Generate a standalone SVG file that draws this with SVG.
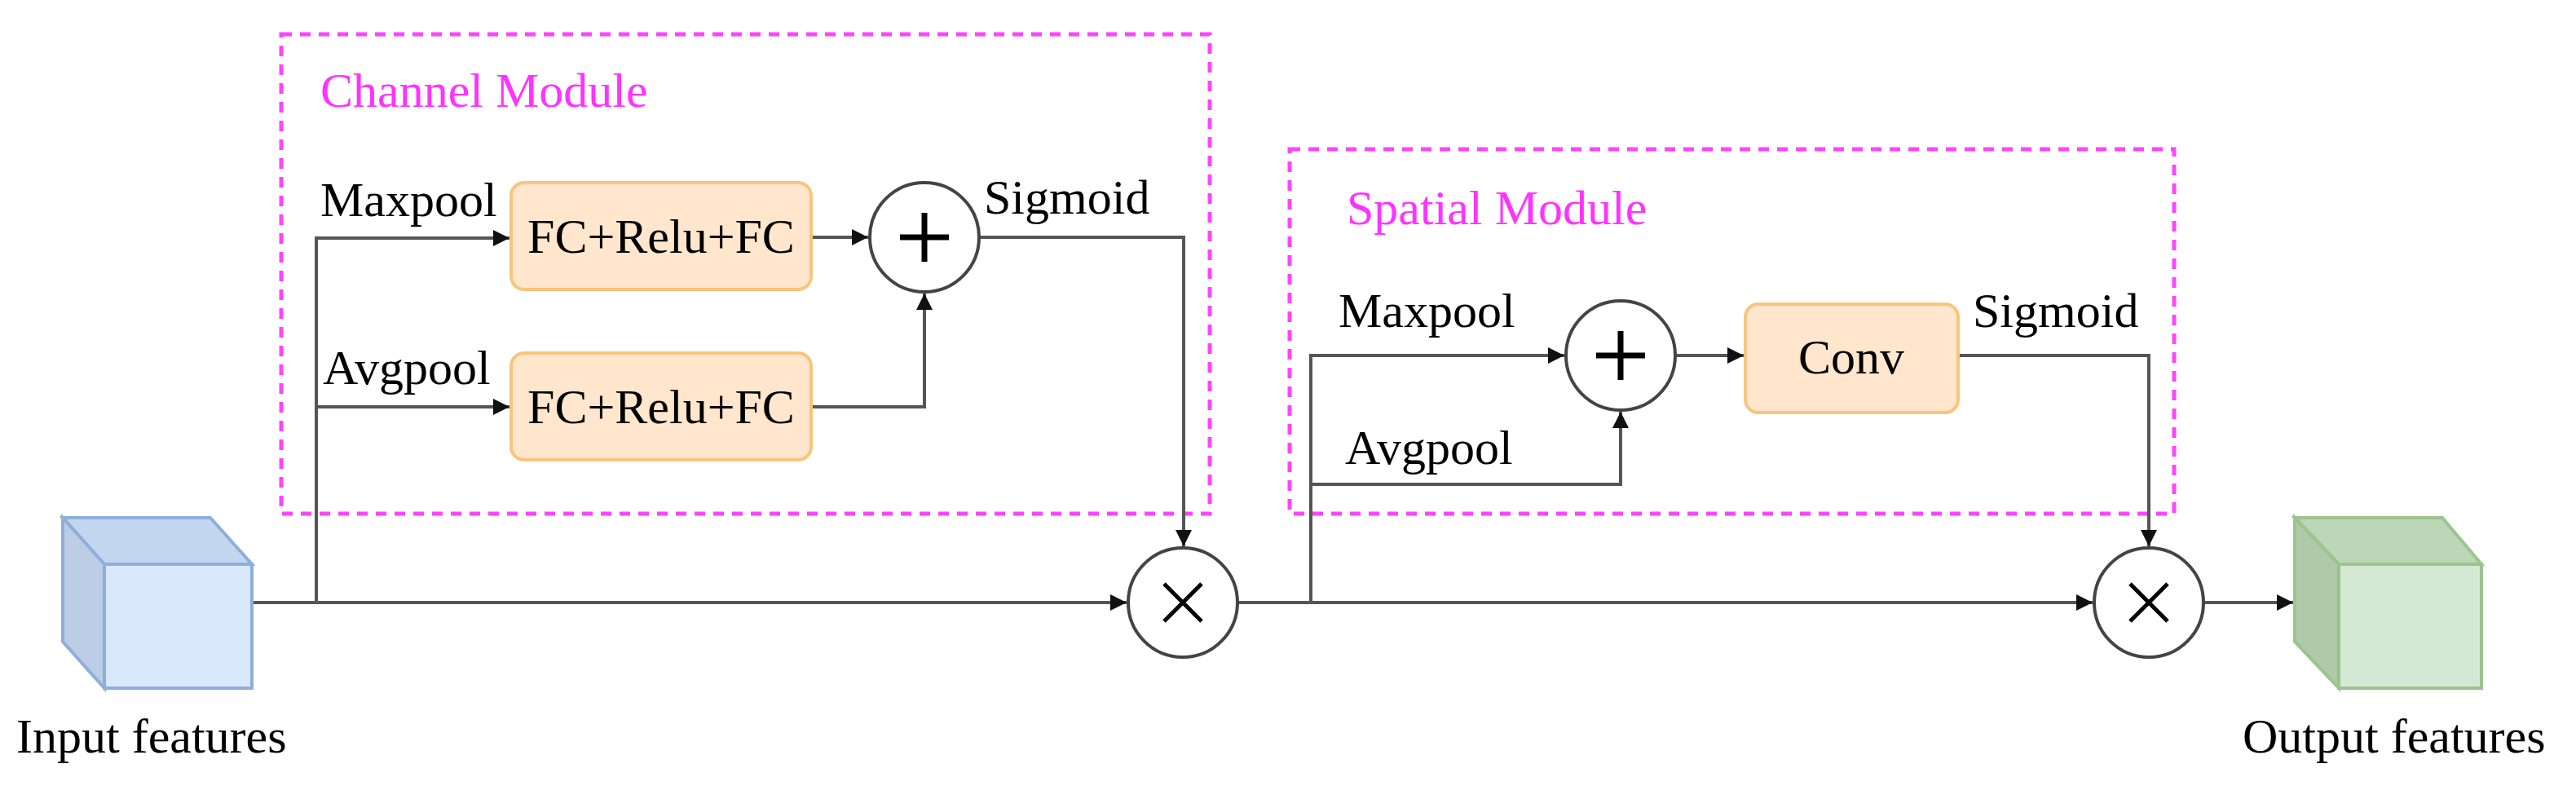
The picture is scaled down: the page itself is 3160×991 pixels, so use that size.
<svg xmlns="http://www.w3.org/2000/svg" width="3160" height="991" viewBox="0 0 3160 991">
<style>
text{font-family:"Liberation Serif","Times New Roman",serif;fill:#000}
.lbl{font-size:60px}
.mod{font-size:60px;fill:#ff33ff}
.box{fill:#ffe6cc;stroke:#f8c47e;stroke-width:4}
.dash{fill:none;stroke:#ff44ff;stroke-width:5;stroke-dasharray:13 10}
.op{fill:#fff;stroke:#444;stroke-width:4}
.sym{stroke:#000;stroke-width:7;stroke-linecap:butt}
.c{fill:none;stroke:#555;stroke-width:4}
</style>
<defs>
<marker id="a" viewBox="0 0 10 10" refX="10" refY="5" markerWidth="5" markerHeight="5" orient="auto" markerUnits="strokeWidth">
<path d="M0,0 L10,5 L0,10 Z" fill="#111"/>
</marker>
</defs>
<rect width="3160" height="991" fill="#fff"/>
<g id="channel-module">
<rect class="dash" x="345" y="42" width="1139" height="588"/>
<text class="mod" x="393" y="131">Channel Module</text>
</g>
<g id="spatial-module">
<rect class="dash" x="1582" y="183" width="1085" height="447"/>
<text class="mod" x="1652" y="275">Spatial Module</text>
</g>
<g id="connectors">
<path class="c" d="M309,739 H1382" marker-end="url(#a)"/>
<path class="c" d="M388,739 V292 H625" marker-end="url(#a)"/>
<path class="c" d="M388,499 H625" marker-end="url(#a)"/>
<path class="c" d="M995,291 H1065" marker-end="url(#a)"/>
<path class="c" d="M995,499 H1134 V360" marker-end="url(#a)"/>
<path class="c" d="M1201,291 H1452 V670" marker-end="url(#a)"/>
<path class="c" d="M1518,739 H2567" marker-end="url(#a)"/>
<path class="c" d="M1608,739 V436 H1919" marker-end="url(#a)"/>
<path class="c" d="M1608,594 H1988 V505" marker-end="url(#a)"/>
<path class="c" d="M2055,436 H2139" marker-end="url(#a)"/>
<path class="c" d="M2402,436 H2636 V670" marker-end="url(#a)"/>
<path class="c" d="M2703,739 H2813" marker-end="url(#a)"/>
</g>
<g id="input-features">
<polygon points="77,635 258,635 309,692 128,692" fill="#c3d6f0" stroke="#8eaedb" stroke-width="4"/>
<polygon points="77,635 128,692 128,844 77,787" fill="#bccde6" stroke="#8eaedb" stroke-width="4"/>
<rect x="128" y="692" width="181" height="152" fill="#dae8fc" stroke="#8eaedb" stroke-width="4"/>
<text class="lbl" x="20" y="923">Input features</text>
</g>
<g id="labels-channel">
<text class="lbl" x="393" y="265">Maxpool</text>
<text class="lbl" x="396" y="471">Avgpool</text>
<text class="lbl" x="1207" y="262">Sigmoid</text>
</g>
<g id="fc1">
<rect class="box" x="627" y="224" width="368" height="131" rx="16"/>
<text class="lbl" x="811" y="310" text-anchor="middle">FC+Relu+FC</text>
</g>
<g id="fc2">
<rect class="box" x="627" y="433" width="368" height="131" rx="16"/>
<text class="lbl" x="811" y="519" text-anchor="middle">FC+Relu+FC</text>
</g>
<g id="add1">
<circle class="op" cx="1134" cy="291" r="67"/>
<path class="sym" d="M1104,291 H1164 M1134,261 V321"/>
</g>
<g id="mul1">
<circle class="op" cx="1451" cy="739" r="67"/>
<path class="sym" d="M1428,716 L1474,762 M1474,716 L1428,762" style="stroke-width:5"/>
</g>
<g id="labels-spatial">
<text class="lbl" x="1642" y="401">Maxpool</text>
<text class="lbl" x="1650" y="569">Avgpool</text>
<text class="lbl" x="2420" y="401">Sigmoid</text>
</g>
<g id="add2">
<circle class="op" cx="1988" cy="436" r="67"/>
<path class="sym" d="M1958,436 H2018 M1988,406 V466"/>
</g>
<g id="conv">
<rect class="box" x="2141" y="373" width="261" height="133" rx="16"/>
<text class="lbl" x="2271" y="458" text-anchor="middle">Conv</text>
</g>
<g id="mul2">
<circle class="op" cx="2636" cy="739" r="67"/>
<path class="sym" d="M2613,716 L2659,762 M2659,716 L2613,762" style="stroke-width:5"/>
</g>
<g id="output-features">
<polygon points="2815,635 2996,635 3044,692 2869,692" fill="#bcd6b8" stroke="#9cc48e" stroke-width="4"/>
<polygon points="2815,635 2869,692 2869,844 2815,787" fill="#aecaa9" stroke="#9cc48e" stroke-width="4"/>
<rect x="2869" y="692" width="175" height="152" fill="#d5e8d4" stroke="#9cc48e" stroke-width="4"/>
<text class="lbl" x="2751" y="923">Output features</text>
</g>
</svg>
